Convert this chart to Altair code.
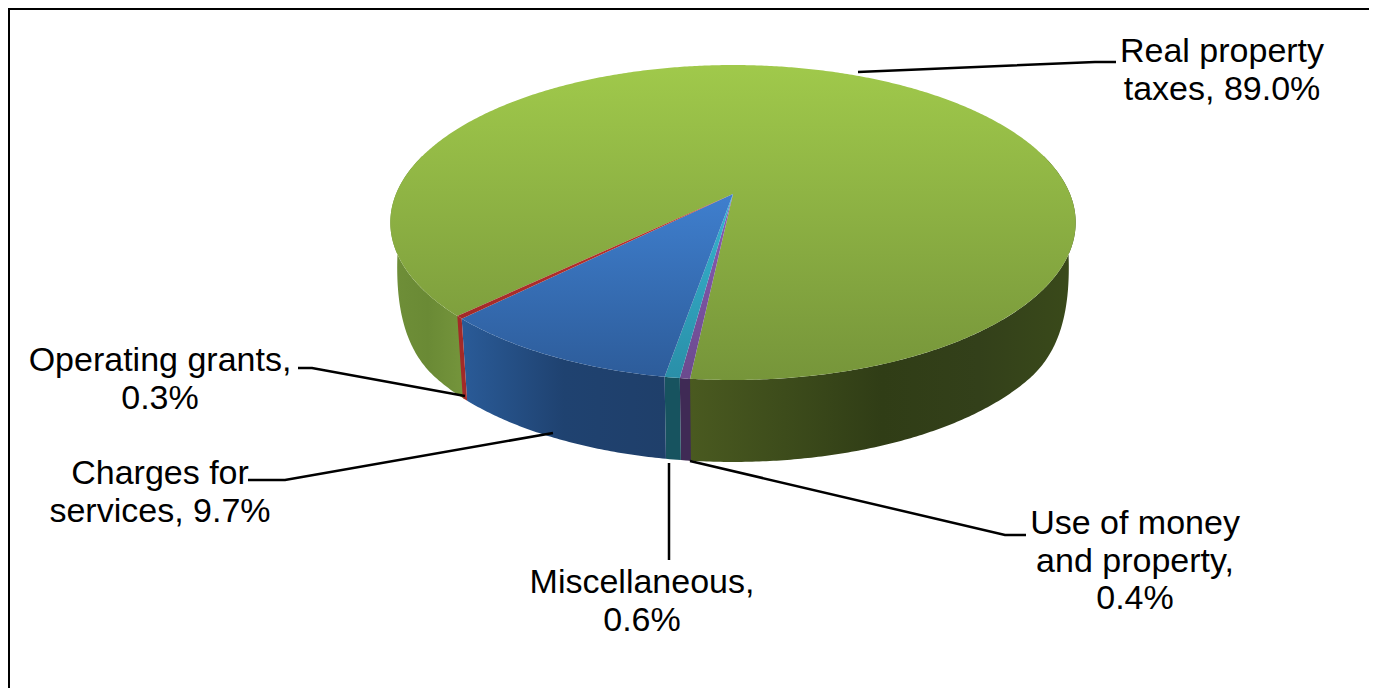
import math
import altair as alt

# ---- values ----
categories = ["Real property taxes", "Use of money and property", "Miscellaneous",
              "Charges for services", "Operating grants"]
shares = [89.0, 0.4, 0.6, 9.7, 0.3]

label_texts = ["Real property\ntaxes, 89.0%", "Use of money\nand property,\n0.4%",
               "Miscellaneous,\n0.6%", "Charges for\nservices, 9.7%", "Operating grants,\n0.3%"]
label_x = [1222, 1135, 642, 160, 160]
label_y = [52, 524, 583, 474, 361]

leader_x = [[858, 1095, 1116], [690, 1005, 1026], [669, 669], [553, 285, 248], [465, 312, 298]]
leader_y = [[72, 62, 62], [461, 535, 535], [463, 560], [433, 480, 480], [396, 368, 368]]

PAGE_W, PAGE_H = 1361, 680
xs = alt.Scale(domain=[8, 8 + PAGE_W], nice=False, zero=False)
ys = alt.Scale(domain=[8 + PAGE_H, 8], nice=False, zero=False)


def rim(theta_deg):
    """Perspective view of the pie's circular top edge; theta runs clockwise from the back."""
    t = math.radians(theta_deg)
    u, v = math.sin(t), -math.cos(t)
    w = 1 - 0.181 * v
    return 733 + 337 * u / w, (117.2 * v + 194) / w


def low(theta_deg):
    x, y = rim(theta_deg)
    v = -math.cos(math.radians(theta_deg))
    return 733 + (x - 733) * 0.98, y + max(0.0, 82 - 210 * max(0.0, 0.6 - v) ** 2)


def angles(a, b):
    n = max(2, int(abs(b - a)) * 2 + 1)
    return [a + (b - a) * i / (n - 1) for i in range(n)]


def poly(points, fill):
    rows = [{"x": p[0], "y": p[1], "i": i} for i, p in enumerate(points)]
    return alt.Chart(alt.Data(values=rows)).mark_line(
        fill=fill, stroke=None, strokeWidth=0, clip=False
    ).encode(
        x=alt.X("x:Q", scale=xs, axis=None),
        y=alt.Y("y:Q", scale=ys, axis=None),
        order=alt.Order("i:Q"),
    )


def grad(c, horizontal=False):
    n = len(c) - 1
    return alt.LinearGradient(
        gradient="linear",
        x1=0, y1=0,
        x2=1 if horizontal else 0,
        y2=0 if horizontal else 1,
        stops=[alt.GradientStop(offset=k / n, color=col) for k, col in enumerate(c)],
    )


# slice boundaries, clockwise from the start angle
start = 225.6
edges = [start]
for s in shares:
    edges.append(edges[-1] + s * 3.6)

top_fill = [
    grad(["#a0c94b", "#76953a"]),
    grad(["#8a5db5", "#6b4a8e"]),
    grad(["#36b4d0", "#2a8fa8"]),
    grad(["#3f7fce", "#2d5c9a"]),
    grad(["#c0342f", "#a32a28"]),
]
wall_fill = [
    None,
    "#3f2a55",
    "#17535f",
    grad(["#2a5b98", "#1f4270", "#1f3f6a"], True),
    "#a32a28",
]

layers = []

# green side wall: a left and a right part, the hidden back is left out
layers.append(poly(
    [rim(t) for t in angles(225.0, 285)] + [low(t) for t in angles(285, 225.0)],
    grad(["#6f8f38", "#6a8a35", "#75953c"], True)))
layers.append(poly(
    [rim(t) for t in angles(75, 186.3)] + [low(t) for t in angles(186.3, 75)],
    grad(["#4a5a20", "#3d4c1b", "#303d16", "#33401a", "#3a4a1a"], True)))
for k in range(1, 5):
    a, b = edges[k] % 360, edges[k + 1] % 360
    layers.append(poly(
        [rim(t) for t in angles(a, b)] + [low(t) for t in angles(b, a)],
        wall_fill[k]))

# tops, biggest first
for k in range(5):
    a, b = edges[k], edges[k + 1]
    layers.append(poly([(733, 194)] + [rim(t) for t in angles(a, b)], top_fill[k]))

# leaders
for lx, ly in zip(leader_x, leader_y):
    rows = [{"x": a, "y": b, "i": i} for i, (a, b) in enumerate(zip(lx, ly))]
    layers.append(alt.Chart(alt.Data(values=rows)).mark_line(color="black", strokeWidth=2.5).encode(
        x=alt.X("x:Q", scale=xs, axis=None),
        y=alt.Y("y:Q", scale=ys, axis=None),
        order=alt.Order("i:Q"),
    ))

# labels
label_rows = [{"t": t, "x": a, "y": b} for t, a, b in zip(label_texts, label_x, label_y)]
layers.append(alt.Chart(alt.Data(values=label_rows)).mark_text(
    font="Liberation Sans", fontSize=34, color="black", align="center", baseline="middle",
    lineBreak="\n", lineHeight=37.5
).encode(
    x=alt.X("x:Q", scale=xs, axis=None),
    y=alt.Y("y:Q", scale=ys, axis=None),
    text="t:N",
))

# frame: top and left edges of the picture
layers.append(alt.Chart(alt.Data(values=[{"a": 0}])).mark_rule(color="black", strokeWidth=2).encode(
    x=alt.value(0), x2=alt.value(PAGE_W), y=alt.value(1)))
layers.append(alt.Chart(alt.Data(values=[{"a": 0}])).mark_rule(color="black", strokeWidth=2).encode(
    y=alt.value(0), y2=alt.value(PAGE_H), x=alt.value(1)))

chart = alt.layer(*layers).properties(
    width=PAGE_W, height=PAGE_H, padding=0, background="white",
    autosize=alt.AutoSizeParams(type="none"),
).configure_view(stroke=None)

chart.save("out.html", embed_options={"renderer": "svg", "actions": False})
